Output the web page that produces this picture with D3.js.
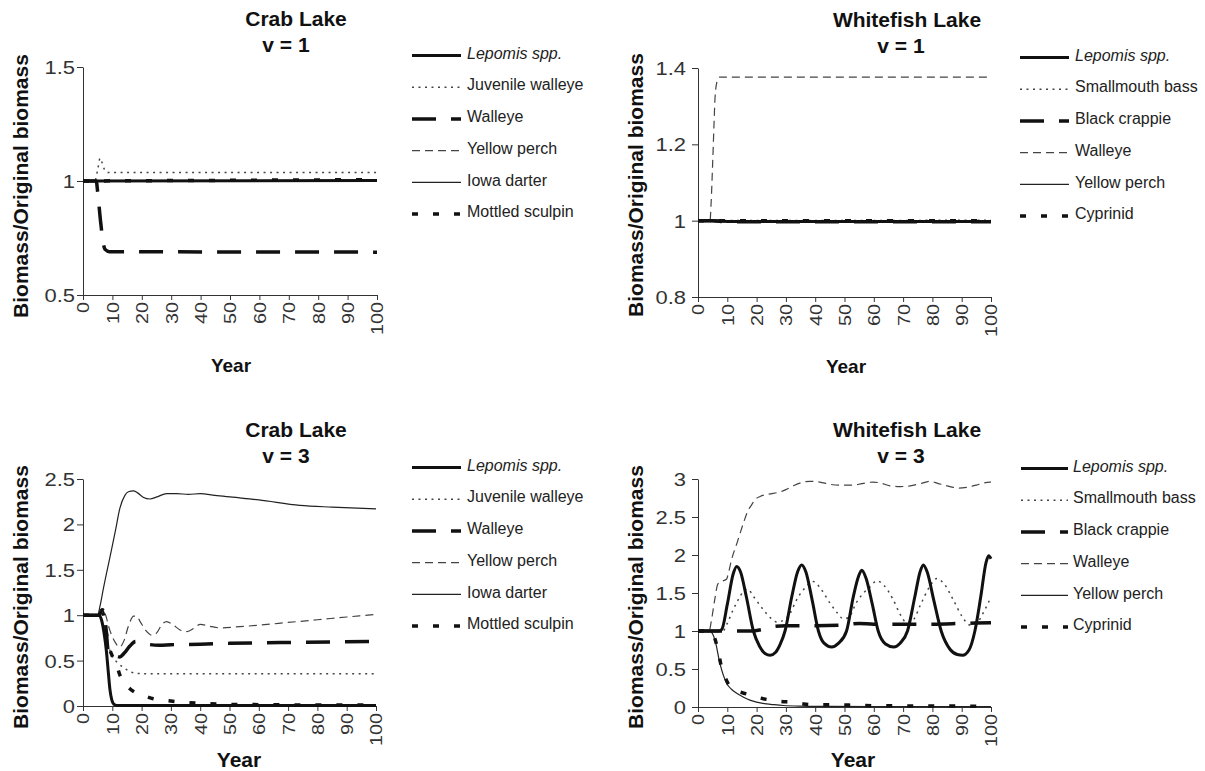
<!DOCTYPE html>
<html><head><meta charset="utf-8">
<script src="https://cdn.jsdelivr.net/npm/d3@7"></script>
<style>
html,body{margin:0;padding:0;background:#fff;}
svg{display:block;font-family:"Liberation Sans",Arial,sans-serif;}
</style></head>
<body>
<svg id="chart" width="1205" height="771"></svg>
<script>
// ---------- DATA ----------
const xTickValues = [0,10,20,30,40,50,60,70,80,90,100];
const xTickLabels = ["0","10","20","30","40","50","60","70","80","90","100"];
const crab1YTicks = [0.5,1,1.5];
const crab1YLabels = ["0.5","1","1.5"];
const white1YTicks = [0.8,1,1.2,1.4];
const white1YLabels = ["0.8","1","1.2","1.4"];
const crab3YTicks = [0,0.5,1,1.5,2,2.5];
const crab3YLabels = ["0","0.5","1","1.5","2","2.5"];
const white3YTicks = [0,0.5,1,1.5,2,2.5,3];
const white3YLabels = ["0","0.5","1","1.5","2","2.5","3"];

const crabSpecies = ["Lepomis spp.","Juvenile walleye","Walleye","Yellow perch","Iowa darter","Mottled sculpin"];
const whiteSpecies = ["Lepomis spp.","Smallmouth bass","Black crappie","Walleye","Yellow perch","Cyprinid"];

// Crab Lake, v = 1  ([year, biomass ratio])
const crab1Lepomis = [[0,1],[100,1.002]];
const crab1JuvWalleye = [[0,1],[4,1],[5,1.05],[5.8,1.10],[6.5,1.08],[7.5,1.045],[8.5,1.037],[100,1.037]];
const crab1Walleye = [[0,1],[4.5,1],[5,0.95],[6,0.82],[7,0.72],[7.5,0.70],[9,0.69],[100,0.688]];
const crab1YellowPerch = [[0,1],[100,1.003]];
const crab1IowaDarter = [[0,1],[100,1.0]];
const crab1Sculpin = [[0,1],[100,1.006]];

// Whitefish Lake, v = 1
const white1Lepomis = [[0,1],[5,1],[10,0.998],[100,0.998]];
const white1Smallmouth = [[0,1],[100,1.001]];
const white1Crappie = [[0,1],[5,1],[10,0.997],[100,0.997]];
const white1Walleye = [[0,1],[4.1,1],[4.5,1.05],[5,1.15],[5.5,1.26],[5.8,1.32],[6.5,1.365],[7.3,1.376],[100,1.376]];
const white1YellowPerch = [[0,1],[100,1.0]];
const white1Cyprinid = [[0,1],[100,1.0]];

// Crab Lake, v = 3
const crab3Lepomis = [[0,1],[5.5,1],[6.3,0.95],[7.2,0.8],[8,0.6],[8.7,0.35],[9.2,0.18],[9.8,0.07],[10.5,0.02],[11.5,0.005],[100,0.005]];
const crab3JuvWalleye = [[0,1],[5.5,1],[6.5,0.92],[7.5,0.8],[8.5,0.68],[10,0.55],[12,0.47],[14,0.42],[16,0.38],[18,0.36],[22,0.355],[100,0.355]];
const crab3Walleye = [[0,1],[5.5,1],[6.5,1.06],[7.2,1.04],[8,0.8],[8.6,0.6],[9.5,0.55],[11,0.55],[12.5,0.54],[14,0.58],[16,0.66],[18,0.71],[20,0.70],[22,0.68],[26,0.67],[30,0.675],[40,0.68],[50,0.69],[70,0.70],[100,0.71]];
const crab3YellowPerch = [[0,1],[5.5,1],[6.5,1.05],[7.5,1.02],[9,0.85],[11,0.7],[12.5,0.65],[14,0.72],[15.5,0.88],[17.3,0.99],[18.3,0.99],[19.5,0.93],[21.5,0.83],[23.5,0.78],[25,0.8],[27,0.9],[28.5,0.93],[30.5,0.9],[33,0.84],[35.5,0.82],[38,0.86],[40,0.9],[43,0.88],[47,0.86],[52,0.87],[60,0.89],[70,0.92],[80,0.95],[90,0.98],[100,1.01]];
const crab3IowaDarter = [[0,1],[5,1],[5.8,1.1],[7,1.3],[9.2,1.64],[11,1.92],[12.6,2.18],[14.3,2.32],[15.5,2.36],[17.2,2.37],[18.5,2.35],[20.5,2.3],[22.9,2.28],[25,2.3],[28.6,2.34],[32,2.34],[36,2.33],[40,2.34],[45,2.32],[51,2.3],[60,2.27],[74,2.21],[85,2.19],[100,2.17]];
const crab3Sculpin = [[0,1],[5.5,1],[6.5,1.05],[7.3,0.95],[8.5,0.7],[10,0.55],[11.5,0.45],[12.6,0.34],[14,0.26],[16,0.19],[18.3,0.14],[21,0.11],[24,0.08],[26.3,0.07],[30,0.055],[35,0.04],[40,0.03],[47,0.02],[60,0.015],[80,0.01],[100,0.01]];

// Whitefish Lake, v = 3
const white3Lepomis = [[0,1],[7,1],[8.1,1.02],[10,1.35],[12,1.75],[13.2,1.85],[14.5,1.78],[16.5,1.45],[18.9,1.0],[21,0.8],[23,0.7],[24.6,0.68],[26.5,0.72],[28,0.82],[29.7,1.0],[32,1.45],[34,1.78],[35.4,1.87],[36.8,1.78],[39,1.4],[41.1,1.0],[43,0.84],[45.6,0.79],[48,0.84],[50.7,1.0],[53,1.45],[54.8,1.72],[55.9,1.8],[57.3,1.7],[59.5,1.35],[61.5,1.0],[64,0.83],[66.8,0.79],[69,0.84],[71.5,1.0],[74,1.45],[75.8,1.78],[76.9,1.87],[78.2,1.78],[80.5,1.4],[83,1.0],[86,0.76],[88.5,0.69],[90.3,0.68],[92.5,0.75],[94.5,1.0],[96.5,1.45],[98.3,1.9],[99.2,1.99],[100,1.95]];
const white3Smallmouth = [[0,1],[8.5,1],[10,1.1],[12,1.28],[14.3,1.45],[15.4,1.52],[17,1.55],[19,1.45],[22.3,1.28],[24.5,1.18],[26.8,1.12],[28.5,1.13],[31.4,1.23],[33.5,1.4],[35.9,1.54],[39.4,1.65],[42,1.55],[45,1.37],[47.5,1.24],[49.6,1.16],[51.5,1.18],[54,1.37],[56.5,1.5],[58.7,1.58],[61,1.66],[63.5,1.6],[66.5,1.42],[69,1.22],[71.2,1.11],[73.5,1.15],[76,1.35],[79,1.58],[81.5,1.69],[84,1.62],[87,1.42],[90,1.2],[92.8,1.08],[95,1.1],[97.5,1.25],[100,1.45]];
const white3Crappie = [[0,1],[18,1.0],[22,1.02],[26,1.06],[30,1.07],[40,1.07],[50,1.08],[55,1.1],[60,1.09],[70,1.09],[80,1.09],[90,1.1],[100,1.11]];
const white3Walleye = [[0,1],[3.8,1],[4.5,1.12],[5.7,1.41],[6.8,1.62],[8.5,1.66],[9.7,1.68],[10.5,1.78],[11.4,1.93],[13.5,2.18],[15.5,2.42],[17,2.58],[18.3,2.66],[19.5,2.73],[21.2,2.77],[24,2.8],[28,2.83],[30,2.86],[32.5,2.91],[35,2.95],[38.2,2.97],[41.6,2.96],[45,2.93],[48.4,2.92],[53,2.92],[56,2.94],[59.8,2.96],[62,2.95],[65.5,2.91],[69,2.9],[72.4,2.91],[76,2.94],[79.2,2.97],[82,2.94],[86,2.9],[89,2.88],[91.7,2.89],[95,2.92],[99.6,2.96],[100,2.96]];
const white3YellowPerch = [[0,1],[4.1,1],[5,0.96],[5.8,0.88],[7.5,0.57],[9.8,0.31],[11.5,0.23],[13.2,0.18],[15.5,0.13],[17.7,0.09],[20,0.065],[23.4,0.04],[26,0.03],[29.1,0.02],[35,0.012],[45,0.008],[60,0.005],[100,0.005]];
const white3Cyprinid = [[0,1],[4.1,1],[5,0.97],[6.5,0.8],[8,0.53],[9.5,0.37],[10.9,0.27],[13,0.22],[15,0.19],[17.6,0.16],[21,0.12],[25,0.09],[28,0.075],[32.5,0.06],[36,0.04],[40,0.03],[47,0.03],[55,0.02],[70,0.015],[85,0.012],[100,0.01]];

// ---------- STYLES (by series slot) ----------
const styles = [
  {w:3,   dash:null,    color:"#111"},     // Lepomis
  {w:1.5, dash:"2,4.5", color:"#444"},     // dotted
  {w:3.5, dash:"24,15", color:"#111"},     // long dash thick
  {w:1.2, dash:"8,5",   color:"#444"},     // thin dashed
  {w:1.2, dash:null,    color:"#222"},     // thin solid
  {w:3.5, dash:"6,15",  color:"#111"}      // short dash thick
];

const panels = [
  {title:"Crab Lake", sub:"v = 1", tx:296, sx:286, ty:26, sy:52,
   xr:[83,377], yr:[295,67], ydom:[0.5,1.5], yt:crab1YTicks, yl:crab1YLabels, ylOff:8,
   ylabX:28, ylabY:186, yearX:231, yearY:372, yearSize:19,
   species:crabSpecies, series:[crab1Lepomis,crab1JuvWalleye,crab1Walleye,crab1YellowPerch,crab1IowaDarter,crab1Sculpin],
   legX1:412, legX2:461, legTX:467, legY:53},
  {title:"Whitefish Lake", sub:"v = 1", tx:907, sx:901, ty:27, sy:53,
   xr:[698,991], yr:[297,68], ydom:[0.8,1.4], yt:white1YTicks, yl:white1YLabels, ylOff:12,
   ylabX:643, ylabY:185, yearX:846, yearY:373, yearSize:19,
   species:whiteSpecies, series:[white1Lepomis,white1Smallmouth,white1Crappie,white1Walleye,white1YellowPerch,white1Cyprinid],
   legX1:1020, legX2:1069, legTX:1075, legY:55},
  {title:"Crab Lake", sub:"v = 3", tx:296, sx:286, ty:437, sy:463,
   xr:[83,376], yr:[706,479], ydom:[0,2.5], yt:crab3YTicks, yl:crab3YLabels, ylOff:8,
   ylabX:28, ylabY:597, yearX:239, yearY:767, yearSize:21,
   species:crabSpecies, series:[crab3Lepomis,crab3JuvWalleye,crab3Walleye,crab3YellowPerch,crab3IowaDarter,crab3Sculpin],
   legX1:412, legX2:461, legTX:467, legY:465},
  {title:"Whitefish Lake", sub:"v = 3", tx:907, sx:901, ty:437, sy:463,
   xr:[698,991], yr:[707,479], ydom:[0,3], yt:white3YTicks, yl:white3YLabels, ylOff:12,
   ylabX:643, ylabY:597, yearX:853, yearY:767, yearSize:21,
   species:whiteSpecies, series:[white3Lepomis,white3Smallmouth,white3Crappie,white3Walleye,white3YellowPerch,white3Cyprinid],
   legX1:1021, legX2:1068, legTX:1073, legY:466}
];

const svg = d3.select("#chart");
const legStep = 31.7;

panels.forEach(p => {
  const g = svg.append("g");
  const x = d3.scaleLinear().domain([0,100]).range(p.xr);
  const y = d3.scaleLinear().domain(p.ydom).range(p.yr);

  // y axis
  const ya = g.append("g").attr("transform",`translate(${p.xr[0]},0)`)
    .call(d3.axisLeft(y).tickValues(p.yt).tickFormat((d,i)=>p.yl[i]).tickSize(6).tickSizeOuter(0));
  ya.select(".domain").attr("stroke","#333");
  ya.selectAll(".tick line").attr("stroke","#333");
  ya.selectAll(".tick text")
    .attr("x",0).attr("dy","0.36em")
    .attr("transform",`translate(${-p.ylOff},0) scale(1.22,1)`)
    .attr("text-anchor","end")
    .attr("font-size",18).attr("fill","#333")
    .attr("font-family","Liberation Sans, Arial, sans-serif");

  // x axis
  const xa = g.append("g").attr("transform",`translate(0,${p.yr[0]})`)
    .call(d3.axisBottom(x).tickValues(xTickValues).tickFormat((d,i)=>xTickLabels[i]).tickSize(5).tickSizeOuter(0));
  xa.select(".domain").attr("stroke","#333");
  xa.selectAll(".tick line").attr("stroke","#333");
  xa.selectAll(".tick text")
    .attr("x",0).attr("y",0).attr("dy","0.36em")
    .attr("transform","translate(0,7) rotate(-90) scale(1.2,1)")
    .attr("text-anchor","end")
    .attr("font-size",16.5).attr("fill","#333")
    .attr("font-family","Liberation Sans, Arial, sans-serif");

  // titles
  g.append("text").attr("x",p.tx).attr("y",p.ty).attr("text-anchor","middle")
    .attr("font-size",21).attr("font-weight","bold").attr("fill","#111").text(p.title);
  g.append("text").attr("x",p.sx).attr("y",p.sy).attr("text-anchor","middle")
    .attr("font-size",21).attr("font-weight","bold").attr("fill","#111").text(p.sub);

  // axis labels
  g.append("text").attr("transform",`translate(${p.ylabX},${p.ylabY}) rotate(-90)`)
    .attr("text-anchor","middle").attr("font-size",21).attr("font-weight","bold").attr("fill","#111")
    .text("Biomass/Original biomass");
  g.append("text").attr("x",p.yearX).attr("y",p.yearY).attr("text-anchor","middle")
    .attr("font-size",p.yearSize).attr("font-weight","bold").attr("fill","#111").text("Year");

  // lines
  const line = d3.line().x(d=>x(d[0])).y(d=>y(d[1])).curve(d3.curveMonotoneX);
  const order = [4,3,1,0,2,5];
  order.forEach(i => {
    const s = styles[i];
    g.append("path").datum(p.series[i]).attr("d",line)
      .attr("fill","none").attr("stroke",s.color).attr("stroke-width",s.w)
      .attr("stroke-dasharray",s.dash).attr("stroke-linejoin","round");
  });

  // legend
  p.species.forEach((name,i) => {
    const s = styles[i];
    const cy = p.legY + i*legStep;
    g.append("line").attr("x1",p.legX1).attr("x2",p.legX2).attr("y1",cy+2.5).attr("y2",cy+2.5)
      .attr("stroke",s.color).attr("stroke-width",s.w).attr("stroke-dasharray",s.dash);
    g.append("text").attr("x",p.legTX).attr("y",cy).attr("dy","0.36em")
      .attr("font-size",16).attr("fill","#222")
      .attr("font-style", i===0 ? "italic" : "normal")
      .text(name);
  });
});
</script>
</body></html>
